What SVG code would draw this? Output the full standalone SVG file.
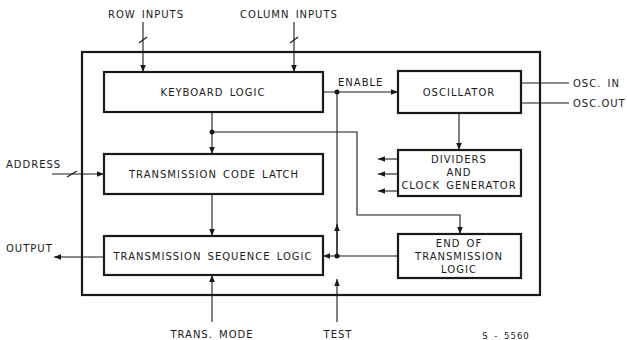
<svg xmlns="http://www.w3.org/2000/svg" width="627" height="340" viewBox="0 0 627 340">
  <style>
    .box { fill: none; stroke: #1a1a1a; stroke-width: 2.2; }
    .wire { fill: none; stroke: #1a1a1a; stroke-width: 1.1; }
    .lbl { font-family: "DejaVu Sans", "Liberation Sans", sans-serif; font-size: 10px; fill: #1a1a1a; letter-spacing: 1px; word-spacing: 2px; }
    .mid { text-anchor: middle; }
    .dot { fill: #1a1a1a; }
  </style>
  <defs>
    <marker id="arr" viewBox="0 0 10 10" refX="10" refY="5" markerWidth="8" markerHeight="7" markerUnits="userSpaceOnUse" orient="auto">
      <path d="M0,1 L10,5 L0,9 Z" fill="#1a1a1a"/>
    </marker>
  </defs>
  <rect width="627" height="340" fill="#ffffff"/>

  <!-- chip outline -->
  <rect id="chip" class="box" x="82" y="52" width="458" height="243"/>

  <g id="keyboard-logic">
    <rect class="box" x="104" y="72" width="219" height="40"/>
    <text class="lbl mid" x="213" y="96">KEYBOARD LOGIC</text>
  </g>
  <g id="transmission-code-latch">
    <rect class="box" x="104" y="154" width="219" height="40"/>
    <text class="lbl mid" x="214" y="178">TRANSMISSION CODE LATCH</text>
  </g>
  <g id="transmission-sequence-logic">
    <rect class="box" x="104" y="236" width="219" height="39"/>
    <text class="lbl mid" x="213" y="260">TRANSMISSION SEQUENCE LOGIC</text>
  </g>
  <g id="oscillator">
    <rect class="box" x="398" y="71" width="123" height="42"/>
    <text class="lbl mid" x="459" y="96">OSCILLATOR</text>
  </g>
  <g id="dividers">
    <rect class="box" x="398" y="150" width="123" height="46"/>
    <text class="lbl mid" x="459" y="163">DIVIDERS</text>
    <text class="lbl mid" x="459" y="176">AND</text>
    <text class="lbl mid" x="459" y="189">CLOCK GENERATOR</text>
  </g>
  <g id="end-of-transmission">
    <rect class="box" x="398" y="234" width="123" height="44"/>
    <text class="lbl mid" x="459" y="247">END OF</text>
    <text class="lbl mid" x="459" y="260">TRANSMISSION</text>
    <text class="lbl mid" x="459" y="273">LOGIC</text>
  </g>

  <g id="connectors">
    <!-- keyboard inputs -->
    <line class="wire" x1="143" y1="22" x2="143" y2="72" marker-end="url(#arr)"/>
    <line class="wire" x1="139" y1="43" x2="147" y2="37"/>
    <line class="wire" x1="294" y1="22" x2="294" y2="72" marker-end="url(#arr)"/>
    <line class="wire" x1="290" y1="43" x2="298" y2="37"/>
    <!-- address -->
    <line class="wire" x1="52" y1="174" x2="104" y2="174" marker-end="url(#arr)"/>
    <line class="wire" x1="67" y1="177" x2="77" y2="171"/>
    <!-- output -->
    <line class="wire" x1="104" y1="257" x2="54" y2="257" marker-end="url(#arr)"/>
    <!-- keyboard logic down to latch, tap to end of transmission -->
    <line class="wire" x1="212" y1="112" x2="212" y2="154" marker-end="url(#arr)"/>
    <circle class="dot" cx="212" cy="132" r="2.5"/>
    <polyline class="wire" points="212,132 357,132 357,215 460,215 460,234" marker-end="url(#arr)"/>
    <!-- latch to sequence logic -->
    <line class="wire" x1="212" y1="194" x2="212" y2="236" marker-end="url(#arr)"/>
    <!-- enable -->
    <line class="wire" x1="323" y1="92" x2="398" y2="92" marker-end="url(#arr)"/>
    <circle class="dot" cx="337" cy="92" r="2.5"/>
    <line class="wire" x1="337" y1="256" x2="337" y2="92"/>
    <line class="wire" x1="337" y1="256" x2="337" y2="224" marker-end="url(#arr)"/>
    <!-- end of transmission back to sequence logic -->
    <line class="wire" x1="398" y1="256" x2="323" y2="256" marker-end="url(#arr)"/>
    <circle class="dot" cx="337" cy="256" r="2.5"/>
    <!-- oscillator -->
    <line class="wire" x1="459" y1="113" x2="459" y2="150" marker-end="url(#arr)"/>
    <line class="wire" x1="521" y1="83" x2="569" y2="83"/>
    <line class="wire" x1="521" y1="103" x2="569" y2="103"/>
    <!-- clock outputs -->
    <line class="wire" x1="398" y1="159" x2="378" y2="159" marker-end="url(#arr)"/>
    <line class="wire" x1="398" y1="174" x2="378" y2="174" marker-end="url(#arr)"/>
    <line class="wire" x1="398" y1="191" x2="378" y2="191" marker-end="url(#arr)"/>
    <!-- trans mode and test -->
    <line class="wire" x1="212" y1="322" x2="212" y2="275" marker-end="url(#arr)"/>
    <line class="wire" x1="337" y1="322" x2="337" y2="279" marker-end="url(#arr)"/>
  </g>

  <g id="labels">
    <text class="lbl mid" x="146" y="18">ROW INPUTS</text>
    <text class="lbl mid" x="289" y="18">COLUMN INPUTS</text>
    <text class="lbl" x="338" y="86">ENABLE</text>
    <text class="lbl" x="573" y="87">OSC. IN</text>
    <text class="lbl" x="573" y="107">OSC.OUT</text>
    <text class="lbl" x="6" y="168">ADDRESS</text>
    <text class="lbl" x="6" y="252">OUTPUT</text>
    <text class="lbl mid" x="212" y="338">TRANS. MODE</text>
    <text class="lbl mid" x="338" y="338">TEST</text>
    <text class="lbl mid" x="506" y="339" style="font-size:8.5px">S - 5560</text>
  </g>
</svg>
